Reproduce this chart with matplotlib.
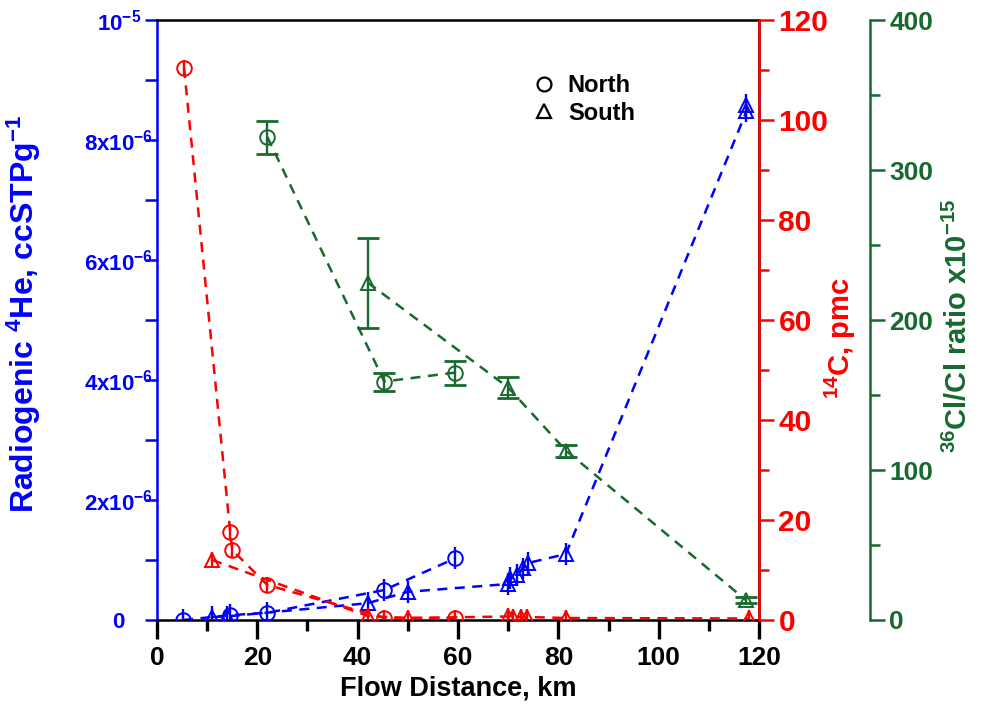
import numpy as np
import matplotlib
matplotlib.use('Agg')
import matplotlib.pyplot as plt
from matplotlib.ticker import MultipleLocator, FixedLocator, FixedFormatter

plt.rcParams['font.family'] = ['Liberation Sans', 'DejaVu Sans']
plt.rcParams['font.weight'] = 'bold'
plt.rcParams['mathtext.fontset'] = 'custom'
plt.rcParams['mathtext.rm'] = 'Liberation Sans:bold'
plt.rcParams['mathtext.it'] = 'Liberation Sans:bold'
plt.rcParams['mathtext.bf'] = 'Liberation Sans:bold'
plt.rcParams['mathtext.sf'] = 'Liberation Sans:bold'
plt.rcParams['mathtext.default'] = 'rm'

BLUE = '#0000ff'
RED = '#ff0000'
GREEN = '#17692f'

# radiogenic 4He (units of 1e-6 ccSTP/g)
he_north_x = [5.2, 14.5, 22.0, 45.3, 59.5]
he_north_y = [0.0, 0.08, 0.12, 0.50, 1.03]
he_south_x = [11.0, 14.0, 42.0, 50.0, 70.0, 70.4, 71.8, 73.0, 74.0, 81.5, 117.5, 117.5]
he_south_y = [0.05, 0.06, 0.28, 0.47, 0.60, 0.70, 0.75, 0.86, 0.95, 1.10, 8.48, 8.58]
he_err = 0.18

# 14C, pmc
c_north_x = [5.4, 14.6, 15.0, 22.0, 45.3, 59.5]
c_north_y = [110.4, 17.6, 14.0, 7.0, 0.4, 0.4]
c_south_x = [11.0, 42.0, 50.0, 70.0, 71.0, 72.5, 73.8, 81.5, 118.0]
c_south_y = [12.0, 0.8, 0.4, 0.7, 0.6, 0.6, 0.6, 0.4, 0.3]
c_err = 1.6

# 36Cl/Cl ratio x1e-15
cl_north_x = [22.0, 45.3, 59.5]
cl_north_y = [322, 159, 165]
cl_north_err = [11, 6, 8]
cl_south_x = [42.0, 70.0, 81.5, 117.5]
cl_south_y = [225, 155, 113, 13]
cl_south_err = [30, 7, 4, 2]

he_ticks = [0, 2, 4, 6, 8, 10]
he_ticklabels = ['0', '2x10$^{-6}$', '4x10$^{-6}$', '6x10$^{-6}$', '8x10$^{-6}$', '10$^{-5}$']


def draw(ax, x, y, yerr, marker, color, capsize=0):
    ax.errorbar(x, y, yerr=yerr, fmt='none', ecolor=color, elinewidth=1.7,
                capsize=capsize, capthick=2.0, zorder=3)
    ax.plot(x, y, linestyle='none', marker=marker, markersize=10.5,
            markerfacecolor='none', markeredgecolor=color, markeredgewidth=1.4, zorder=4)
    ax.plot(x, y, linestyle=(0, (4, 3)), color=color, linewidth=1.8, zorder=2)


fig, ax = plt.subplots(figsize=(9.86, 7.18), dpi=100)
fig.subplots_adjust(left=0.1592, right=0.7698, bottom=0.1365, top=0.9721)

ax2 = ax.twinx()
ax3 = ax.twinx()

# helium on left axis
draw(ax, he_north_x, he_north_y, he_err, 'o', BLUE)
draw(ax, he_south_x, he_south_y, he_err, '^', BLUE)
# carbon on first right axis
draw(ax2, c_north_x, c_north_y, c_err, 'o', RED)
draw(ax2, c_south_x, c_south_y, c_err, '^', RED)
# chlorine on offset right axis
draw(ax3, cl_north_x, cl_north_y, cl_north_err, 'o', GREEN, capsize=8)
draw(ax3, cl_south_x, cl_south_y, cl_south_err, '^', GREEN, capsize=8)

ax.set_xlim(0, 120)
ax.set_ylim(0, 10)
ax2.set_ylim(0, 120)
ax3.set_ylim(0, 400)

ax.xaxis.set_major_locator(MultipleLocator(20))
ax.xaxis.set_minor_locator(MultipleLocator(10))
ax.yaxis.set_major_locator(FixedLocator(he_ticks))
ax.yaxis.set_major_formatter(FixedFormatter(he_ticklabels))
ax.yaxis.set_minor_locator(MultipleLocator(1))
ax2.yaxis.set_major_locator(MultipleLocator(20))
ax2.yaxis.set_minor_locator(MultipleLocator(10))
ax3.yaxis.set_major_locator(MultipleLocator(100))
ax3.yaxis.set_minor_locator(MultipleLocator(50))

for a in (ax, ax2, ax3):
    for s in a.spines.values():
        s.set_linewidth(1.8)

ax.spines['left'].set_color(BLUE)
ax.spines['bottom'].set_color('black')
ax.spines['top'].set_color('black')
ax.spines['right'].set_color('black')

ax2.spines['right'].set_color(RED)
for s in ('left', 'top', 'bottom'):
    ax2.spines[s].set_visible(False)

ax3.spines['right'].set_position(('axes', 1.184))
ax3.spines['right'].set_color(GREEN)
for s in ('left', 'top', 'bottom'):
    ax3.spines[s].set_visible(False)

ax.tick_params(axis='x', which='major', direction='out', length=14, width=2.4,
               labelsize=19, pad=5, colors='black')
ax.tick_params(axis='x', which='minor', direction='out', length=8, width=2.4)
ax.tick_params(axis='y', which='both', direction='out', length=8.5, width=1.8,
               color=BLUE, labelcolor=BLUE, labelsize=16, pad=19)
for lbl in ax.get_yticklabels():
    lbl.set_horizontalalignment('center')
ax2.tick_params(axis='y', which='major', direction='out', length=11, width=1.8,
                color=RED, labelcolor=RED, labelsize=21.5, pad=3)
ax2.tick_params(axis='y', which='minor', direction='out', length=7, width=1.8, color=RED)
ax3.tick_params(axis='y', which='major', direction='out', length=11, width=1.8,
                color=GREEN, labelcolor=GREEN, labelsize=19, pad=3)
ax3.tick_params(axis='y', which='minor', direction='out', length=7, width=1.8, color=GREEN)

ax.set_xlabel('Flow Distance, km', fontsize=19.5, fontweight='bold', labelpad=4)
ax.set_ylabel('Radiogenic $^{4}$He, ccSTPg$^{-1}$', fontsize=23, fontweight='bold', color=BLUE)
ax.yaxis.set_label_coords(-0.19, 0.51)
ax2.set_ylabel('$^{14}$C, pmc', fontsize=21, fontweight='bold', color=RED)
ax2.yaxis.set_label_coords(1.106, 0.47)
ax3.set_ylabel('$^{36}$Cl/Cl ratio x10$^{-15}$', fontsize=21, fontweight='bold', color=GREEN)
ax3.yaxis.set_label_coords(1.307, 0.49)

# legend with open black symbols
hn, = ax.plot([], [], 'o', markerfacecolor='none', markeredgecolor='black', markersize=10, markeredgewidth=1.6)
hs, = ax.plot([], [], '^', markerfacecolor='none', markeredgecolor='black', markersize=10, markeredgewidth=1.6)
ax3.legend([hn, hs], ['North', 'South'], loc='upper left', bbox_to_anchor=(0.604, 0.93),
           frameon=False, prop={'weight': 'bold', 'size': 17}, handlelength=1.0,
           handletextpad=0.5, labelspacing=0.2, borderpad=0)

plt.savefig('out.png', dpi=100)
